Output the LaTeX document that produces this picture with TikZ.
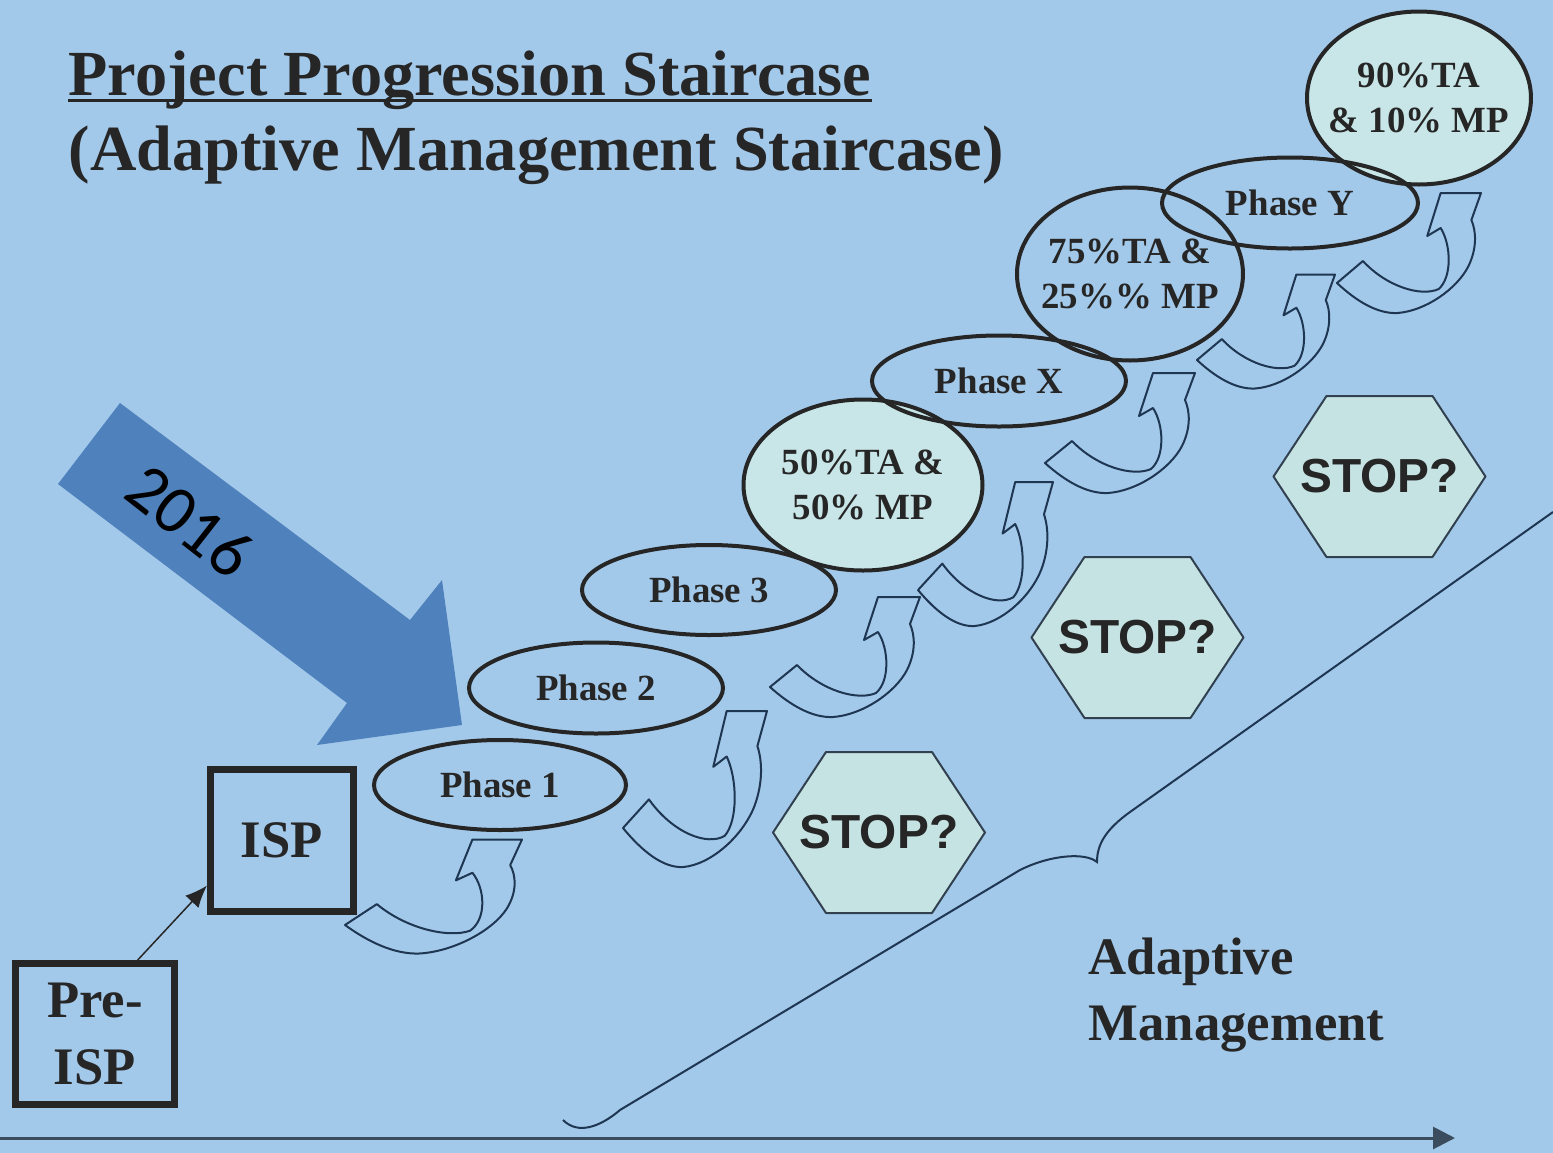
\documentclass[tikz,border=0pt]{standalone}
\usepackage{fontspec}
\setmainfont{Liberation Serif}
\newfontfamily\hexfont{Liberation Sans}
\newfontfamily\yearfont{Carlito}
\usepackage{xcolor}
\usepackage{tikz}
\usetikzlibrary{positioning,arrows.meta,calc}
\definecolor{stairbg}{HTML}{A3C9EA}
\definecolor{stairink}{HTML}{262626}
\definecolor{stairpale}{HTML}{C8E6E8}
\definecolor{stairhex}{HTML}{C6E3E3}
\definecolor{stairnavy}{HTML}{1E3652}
\definecolor{stairblue}{HTML}{4F81BD}
\definecolor{stairaxis}{HTML}{3A4C5E}

\tikzset{
  uturn/.pic={
    \draw[turnline] (0,0) .. controls (20,18) and (42,31) .. (63,30)
      .. controls (92,28) and (125,6) .. (137,-17)
      .. controls (146,-35) and (145,-52) .. (140,-63)
      -- (150,-90) -- (108,-90) -- (94,-47) -- (108,-55)
      .. controls (119,-38) and (120,-6) .. (106,6)
      .. controls (88,14) and (52,4) .. (27,-22) -- cycle;
  }
}

\begin{document}
\begin{tikzpicture}[x=0.1mm,y=-0.1mm,
  titletxt/.style={inner sep=0pt,text=stairink,font=\bfseries\fontsize{18.3}{22}\selectfont},
  box/.style={draw=stairink,line width=0.7mm,inner sep=0pt,align=center,text=stairink,font=\bfseries\fontsize{15}{18.8}\selectfont},
  ringline/.style={draw=stairink,line width=0.4mm},
  steptxt/.style={inner sep=0pt,align=center,text=stairink,font=\bfseries\fontsize{10.5}{12.8}\selectfont},
  hexline/.style={draw=stairaxis!85!black,fill=stairhex,line width=0.2mm,line join=round},
  stoptxt/.style={inner sep=0pt,text=stairink,font=\hexfont\bfseries\fontsize{13.6}{16}\selectfont},
  turnline/.style={draw=stairnavy,line width=0.2mm,line join=round},
  thinarr/.style={draw=stairink,line width=0.15mm,-{Latex[length=2.2mm,width=1.8mm]}},
  axisline/.style={draw=stairaxis,line width=0.3mm,-{Triangle[length=2.2mm,width=2.2mm]}},
  amtxt/.style={inner sep=0pt,align=left,text=stairink,font=\bfseries\fontsize{15}{18.5}\selectfont}
]
\useasboundingbox (0,0) rectangle (1553,1153);
\fill[stairbg] (0,0) rectangle (1553,1153);

% title
\node[titletxt,anchor=base west] (ttl) at (68,95) {Project Progression Staircase};
\node[titletxt,anchor=base west] (sub) at (68,170) {(Adaptive Management Staircase)};
\draw[stairink,line width=0.3mm] ($(ttl.base west)+(0,5)$) -- ($(ttl.base east)+(0,5)$);

% big brace and time axis
\draw[stairnavy,line width=0.2mm] (563,1120) .. controls (578,1135) and (600,1127) .. (620,1110)
  -- (1020,870) .. controls (1050,855) and (1085,852) .. (1097,862)
  .. controls (1097,845) and (1105,830) .. (1130,812) -- (1553,512);
\coordinate (ax0) at (0,1138);
\coordinate (ax1) at (1455,1138);
\draw[axisline] (ax0) -- (ax1);

% curved step arrows
\pic[xscale=1.18,yscale=0.95] at (345,925) {uturn};
\pic[xscale=0.96,yscale=1.3] at (623,828) {uturn};
\pic at (770,687) {uturn};
\pic[xscale=0.9,yscale=1.2] at (918,590) {uturn};
\pic at (1045,463) {uturn};
\pic[xscale=0.92,yscale=0.95] at (1197,360) {uturn};
\pic[xscale=0.96] at (1337,283) {uturn};

% stairs
\foreach \n/\x/\y in {ph1/500/785, ph2/596/688, ph3/709/590, ta50/863/485,
  phx/999/381, ta75/1130/274, phy/1290/203, ta90/1419/98}
  \coordinate (\n) at (\x,\y);
\foreach \n/\rx/\ry in {ta50/119.5/85.5, ta90/112/86.5}
  \fill[stairpale] (\n) ellipse [x radius=\rx, y radius=\ry];
\foreach \n/\rx/\ry in {ph1/126/45, ph2/127/45.5, ph3/127/45, ta50/119.5/85.5,
  phx/127/45.5, ta75/113/86.5, phy/128/45.5, ta90/112/86.5}
  \draw[ringline] (\n) ellipse [x radius=\rx, y radius=\ry];

\node[steptxt] (ph1t) at (ph1) {Phase 1};
\node[steptxt] (ph2t) at (ph2) {Phase 2};
\node[steptxt] (ph3t) at (ph3) {Phase 3};
\node[steptxt] (ta50t) at (ta50) {50\%TA \&\\50\% MP};
\node[steptxt] (phxt) at (phx) {Phase X};
\node[steptxt] (ta75t) at (ta75) {75\%TA \&\\25\%\% MP};
\node[steptxt] (phyt) at (phy) {Phase Y};
\node[steptxt] (ta90t) at (ta90) {90\%TA\\\& 10\% MP};

% stop signs
\foreach \n/\x/\y in {s1/879/832.5, s2/1137.5/637.5, s3/1379.5/476.5}{
  \draw[hexline] (\x-106,\y) -- ++(53,-80.5) -- ++(106,0) -- ++(53,80.5)
    -- ++(-53,80.5) -- ++(-106,0) -- cycle;
  \node[stoptxt] (\n) at (\x,\y) {STOP?};
}

% start boxes
\node[box,minimum width=15.9mm,minimum height=14.1mm] (pre) at (95,1034) {Pre-\\ISP};
\node[box,minimum width=14.3mm,minimum height=14.2mm] (isp) at (282,840.5) {ISP};
\draw[thinarr] (pre.60) -- (isp.211);

\node[amtxt,anchor=base west] (am) at (1088,1040) {Adaptive\\Management};

% 2016 marker
\fill[stairblue] (120,403) -- (410,620) -- (442,580) -- (462,725) -- (317,745)
  -- (347,703) -- (58,484) -- cycle;
\node[rotate=-38,inner sep=0pt,font=\yearfont\fontsize{19.5}{22}\selectfont] (yr) at (190,521) {2016};
\end{tikzpicture}
\end{document}
